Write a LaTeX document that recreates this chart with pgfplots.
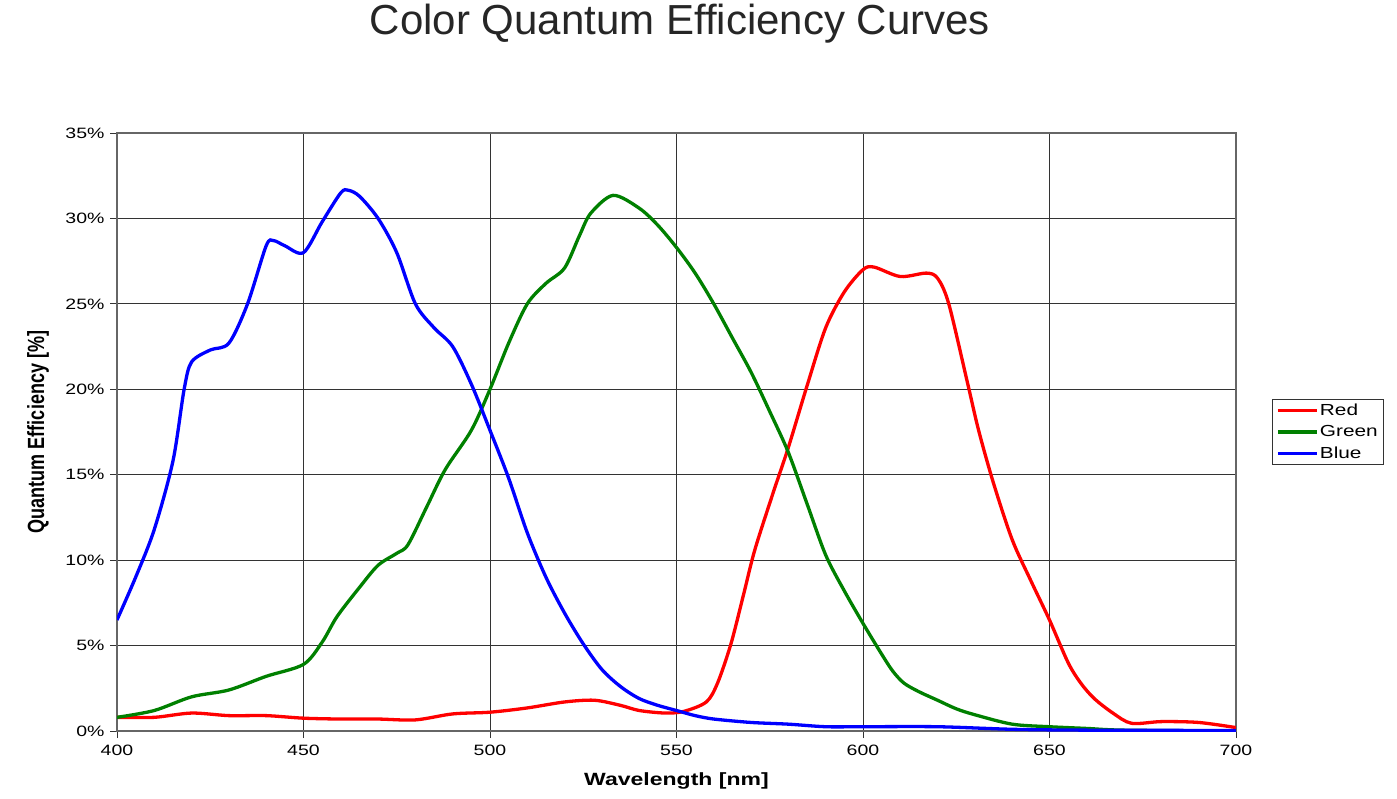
\documentclass[border=0pt]{standalone}
\usepackage{fontspec}
\setmainfont{Liberation Sans}
\newfontfamily\widefont{Liberation Sans}[FakeStretch=1.3]
\newfontfamily\narrowfont{Liberation Sans}[FakeStretch=0.77]
\usepackage{pgfplots}
\pgfplotsset{compat=1.18}
\definecolor{qred}{RGB}{255,0,0}
\definecolor{qgreen}{RGB}{0,128,0}
\definecolor{qblue}{RGB}{0,0,255}
\begin{document}
\begin{tikzpicture}
\path[use as bounding box] (0,0) rectangle (1397pt,798pt);
\node[font=\fontsize{42}{48}\selectfont, text=black!85] at (680pt,774pt) {Color Quantum Efficiency Curves};
\begin{axis}[
  at={(117pt,67pt)}, anchor=south west,
  scale only axis, width=1119pt, height=598pt,
  xmin=400, xmax=700, ymin=0, ymax=35,
  xtick={400,450,...,700},
  xticklabels={400,450,500,550,600,650,700},
  ytick={0,5,...,35},
  yticklabels={0\%,5\%,10\%,15\%,20\%,25\%,30\%,35\%},
  tick align=outside, major tick length=7pt,
  tick style={black!80, line width=0.8pt},
  xtick pos=bottom, ytick pos=left,
  grid=major,
  major grid style={black!80, line width=0.9pt},
  axis line style={black!60, line width=1.2pt},
  ticklabel style={font=\widefont\fontsize{15}{17}\selectfont, text=black},
  xticklabel style={anchor=north, yshift=-3pt},
  yticklabel style={anchor=east, xshift=-2pt},
  xlabel={\bfseries Wavelength [nm]},
  xlabel style={font=\widefont\fontsize{17.7}{20}\selectfont, at={(axis description cs:0.5,-0.084)}, anchor=center},
  ylabel={\bfseries Quantum Efficiency [\%]},
  ylabel style={font=\narrowfont\fontsize{23.4}{26}\selectfont, at={(axis description cs:-0.0706,0.5)}, anchor=center, rotate=0},
  legend style={draw=black!80, line width=0.9pt, at={(1.032,0.5)}, anchor=west,
    font=\widefont\fontsize{16}{18}\selectfont, inner xsep=4pt, inner ysep=3pt, row sep=6pt,
    nodes={inner sep=1.5pt}},
  legend cell align=left,
  legend image code/.code={\draw[#1, line width=3.2pt] (0pt,0pt) -- (39pt,0pt);},
  every axis plot/.append style={line width=3.3pt, smooth, tension=0.5},
  clip=true,
]
\addplot[qred] coordinates {
(400,0.8) (410,0.8) (420,1.05) (430,0.9) (440,0.9) (450,0.75) (460,0.7) (470,0.7)
(480,0.65) (490,1.0) (500,1.1) (510,1.35) (520,1.7) (528,1.8) (535,1.5) (540,1.2)
(547,1.05) (552,1.15) (558,1.7) (561,2.8) (564.6,5.1) (568,8.0) (571,10.6) (576,14.0)
(580,16.6) (585,20.2) (590,23.6) (595,25.7) (600,27.0) (603,27.15) (610,26.6) (617,26.8)
(620,26.5) (623,25.0) (628,20.4) (631,17.6) (635,14.5) (640,11.2) (645,8.8) (650,6.5)
(655,4.0) (658.4,2.8) (662,1.9) (667,1.05) (672,0.45) (680,0.55) (690,0.5) (700,0.2)
};
\addlegendentry{Red}
\addplot[qgreen] coordinates {
(400,0.8) (410,1.2) (420,2.0) (430,2.4) (440,3.2) (450,3.9) (455,5.2) (459,6.7)
(465,8.4) (470,9.7) (475,10.4) (478,10.9) (483,13.1) (488,15.3) (495,17.6) (500,20.0)
(505,22.7) (510,25.0) (515,26.2) (520,27.1) (524,29.0) (527,30.3) (533,31.35) (540,30.6)
(545,29.6) (550,28.3) (555,26.8) (560,25.0) (565,23.0) (570,21.0) (575,18.7) (580,16.3)
(585,13.3) (590,10.3) (595,8.2) (600,6.3) (605,4.5) (608,3.5) (611,2.8) (615,2.3) (620,1.8)
(625,1.3) (630,0.95) (640,0.4) (650,0.25) (660,0.15) (670,0.05) (700,0.0)
};
\addlegendentry{Green}
\addplot[qblue] coordinates {
(400,6.5) (405,9.0) (410,11.8) (415,15.8) (418,20.0) (420,21.6) (425,22.3) (430,22.7)
(435,25.0) (440,28.4) (442,28.7) (445,28.4) (450,28.0) (455,29.8) (460,31.5) (462,31.65)
(465,31.3) (470,30.0) (475,28.0) (480,25.0) (485,23.6) (490,22.5) (495,20.3) (500,17.6)
(505,14.8) (510,11.6) (515,9.0) (520,6.9) (525,5.1) (530,3.6) (535,2.6) (540,1.9)
(545,1.5) (550,1.2) (555,0.9) (560,0.7) (570,0.5) (580,0.4) (590,0.25) (600,0.25)
(620,0.25) (640,0.1) (660,0.05) (700,0.03)
};
\addlegendentry{Blue}
\end{axis}
\end{tikzpicture}
\end{document}
